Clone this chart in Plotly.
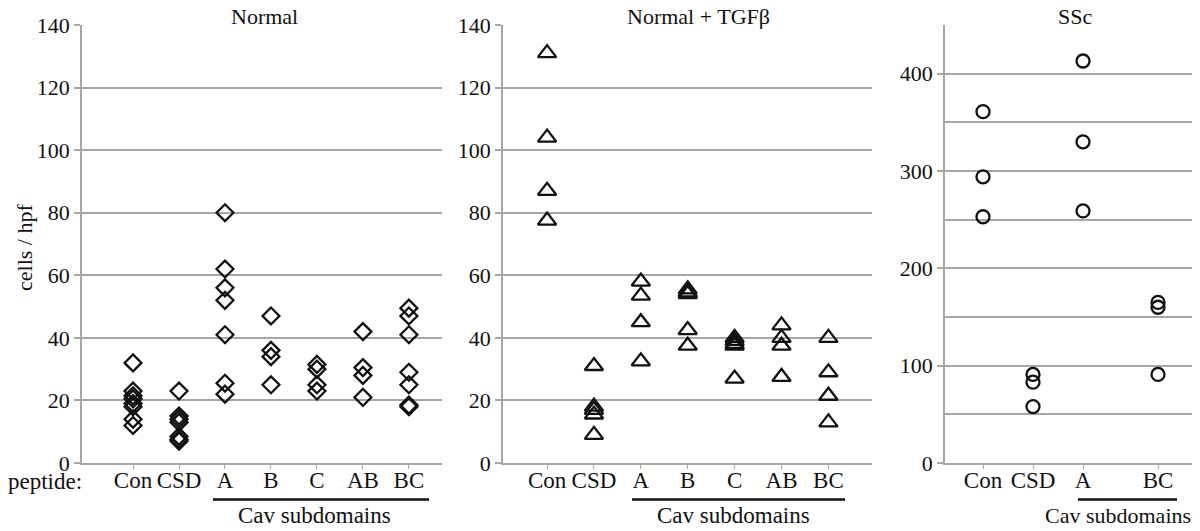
'''
    Three-panel dot plot: cells / hpf per peptide for Normal,
    Normal + TGFb and SSc fibroblasts.
'''

import plotly.graph_objects as go

# --- data -------------------------------------------------------------
normal_cats = ['Con', 'CSD', 'A', 'B', 'C', 'AB', 'BC']
normal_vals = [
    [32, 23, 21.5, 20.5, 19, 18, 14, 12],
    [23, 15, 14, 13, 8.5, 7.5, 7],
    [80, 62, 56, 52, 41, 25.5, 22],
    [47, 36, 34, 25],
    [31.5, 30, 25, 23],
    [42, 30.5, 28, 21],
    [49.5, 47, 41, 29, 25, 18.5, 18],
]

tgf_cats = ['Con', 'CSD', 'A', 'B', 'C', 'AB', 'BC']
tgf_vals = [
    [131, 104, 87, 77.5],
    [31, 18, 17, 15.5, 9],
    [58, 53.5, 45, 32.5],
    [55.5, 54.5, 54, 42.5, 37.5],
    [40, 39, 38, 37.5, 27],
    [44, 40, 37.5, 27.5],
    [40, 29, 21.5, 13],
]

ssc_cats = ['Con', 'CSD', 'A', 'BC']
ssc_pos = [1, 2, 3, 4.5]
ssc_vals = [
    [361, 294, 253],
    [91, 83, 58],
    [413, 330, 259],
    [165, 160, 91],
]

titles = ['Normal', 'Normal + TGF\u03b2', 'SSc']

# --- style ------------------------------------------------------------
# the page puts the plot 8px in from the top-left corner
OFF = 8
W, H = 1200 - OFF, 531 - OFF
FONT = 'Liberation Serif'
GRID = '#a6a6a6'
INK = '#111111'


def px(x):
    return (x - OFF) / W


def py(y):
    return 1 - (y - OFF) / H


def flatten(positions, groups):
    xs, ys = [], []
    for p, g in zip(positions, groups):
        xs += [p] * len(g)
        ys += g
    return xs, ys


fig = go.Figure()

panels = [
    dict(pos=list(range(len(normal_cats))), cats=normal_cats, vals=normal_vals,
         symbol='diamond-open', size=13, dom=(82, 442), xr=[-1.11, 6.72],
         yr=[0, 140], dtick=20, minor=None, title_x=264,
         line=(213, 429), cav_x=314, cav_size=23),
    dict(pos=list(range(len(tgf_cats))), cats=tgf_cats, vals=tgf_vals,
         symbol='triangle-up-open', size=16, dom=(503, 872), xr=[-0.94, 6.93],
         yr=[0, 140], dtick=20, minor=None, title_x=698,
         line=(632, 845), cav_x=733, cav_size=23),
    dict(pos=ssc_pos, cats=ssc_cats, vals=ssc_vals,
         symbol='circle-open', size=13, dom=(945, 1195), xr=[0.24, 5.24],
         yr=[0, 450], dtick=100, minor=50, title_x=1075,
         line=(1078, 1177), cav_x=1118, cav_size=22),
]

y_dom = [py(463), py(25)]

for i, p in enumerate(panels, start=1):
    xs, ys = flatten(p['pos'], p['vals'])
    suffix = '' if i == 1 else str(i)
    fig.add_trace(go.Scatter(
        x=xs, y=ys, mode='markers',
        xaxis='x' + suffix, yaxis='y' + suffix,
        marker=dict(symbol=p['symbol'], size=p['size'], color=INK,
                    line=dict(color=INK, width=2.3)),
        showlegend=False, hoverinfo='y',
    ))

    yaxis = dict(
        domain=y_dom, range=p['yr'], dtick=p['dtick'], anchor='x' + suffix,
        showline=True, linecolor=GRID, linewidth=1.5,
        showgrid=True, gridcolor=GRID, gridwidth=1.5,
        ticks='outside', ticklen=6, tickcolor=GRID, tickwidth=1.5,
        tickfont=dict(family=FONT, size=22, color=INK),
        zeroline=False, fixedrange=True, automargin=False,
    )
    if p['minor']:
        yaxis['minor'] = dict(dtick=p['minor'], showgrid=True,
                              gridcolor=GRID, gridwidth=1.5, ticks='')
    xaxis = dict(
        domain=[px(p['dom'][0]), px(p['dom'][1])], range=p['xr'],
        anchor='y' + suffix, tickvals=p['pos'], ticktext=p['cats'],
        showline=True, linecolor=GRID, linewidth=1.5, showgrid=False,
        ticks='outside', ticklen=4, tickcolor=GRID, tickwidth=1,
        ticklabelstandoff=-8,
        tickfont=dict(family=FONT, size=23, color=INK),
        zeroline=False, fixedrange=True, automargin=False,
    )
    fig.update_layout({'xaxis' + suffix: xaxis, 'yaxis' + suffix: yaxis})

    fig.add_annotation(text=titles[i - 1], xref='paper', yref='paper',
                       x=px(p['title_x']), y=py(17), showarrow=False,
                       xanchor='center', yanchor='middle',
                       font=dict(family=FONT, size=22, color=INK))
    fig.add_annotation(text='Cav subdomains', xref='paper', yref='paper',
                       x=px(p['cav_x']), y=py(515), showarrow=False,
                       xanchor='center', yanchor='middle',
                       font=dict(family=FONT, size=p['cav_size'], color=INK))
    fig.add_shape(type='line', xref='paper', yref='paper',
                  x0=px(p['line'][0]), x1=px(p['line'][1]),
                  y0=py(499.5), y1=py(499.5),
                  line=dict(color=INK, width=2.5))

fig.add_annotation(text='peptide:', xref='paper', yref='paper',
                   x=px(45), y=py(481), showarrow=False,
                   xanchor='center', yanchor='middle',
                   font=dict(family=FONT, size=23, color=INK))
fig.add_annotation(text='cells / hpf', xref='paper', yref='paper',
                   x=px(25), y=py(248), showarrow=False, textangle=-90,
                   xanchor='center', yanchor='middle',
                   font=dict(family=FONT, size=22, color=INK))

fig.update_layout(
    width=W, height=H,
    margin=dict(l=0, r=0, t=0, b=0),
    font=dict(family=FONT, color=INK),
    plot_bgcolor='white', paper_bgcolor='white',
    dragmode=False,
)

fig.write_html('out.html')
